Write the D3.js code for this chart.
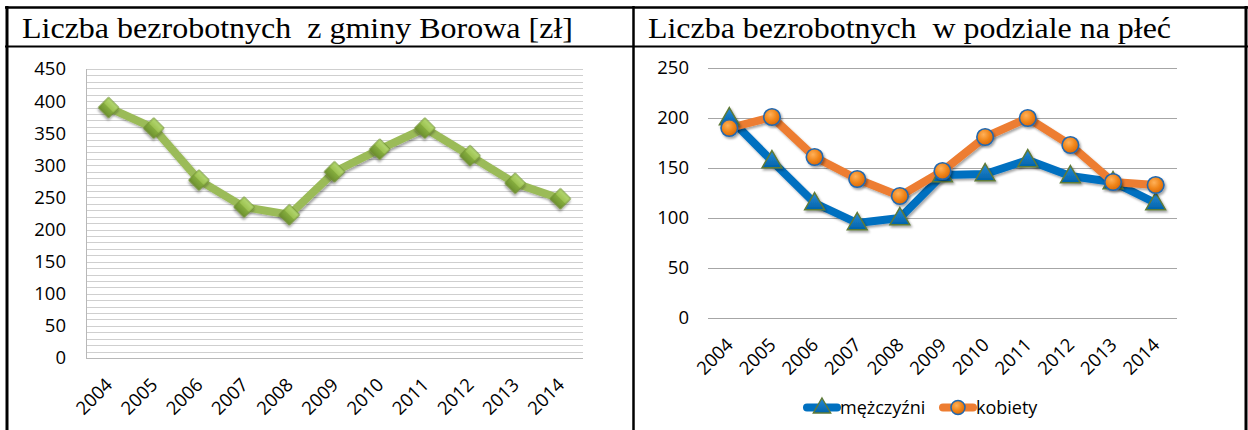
<!DOCTYPE html>
<html>
<head>
<meta charset="utf-8">
<script src="https://cdn.jsdelivr.net/npm/d3@7"></script>
<style>
  html, body { margin: 0; padding: 0; background: #fff; }
  svg { display: block; }
  .title { font-family: "Liberation Serif", "Times New Roman", serif; font-size: 30px; fill: #000; white-space: pre; }
  .tick-label { font-family: "Open Sans", "Noto Sans", sans-serif; font-size: 18.5px; fill: #000; }
  .legend-label { font-family: "Open Sans", "Noto Sans", sans-serif; font-size: 18px; fill: #000; }
</style>
</head>
<body>
<svg id="chart" width="1248" height="430"></svg>
<script>
// Lata i liczba bezrobotnych
const years = ["2004","2005","2006","2007","2008","2009","2010","2011","2012","2013","2014"];
const totalValues = [390, 358, 277, 235, 223, 290, 325, 358, 315, 272, 248];
const menValues   = [200, 157, 115, 95, 100, 143, 144, 158, 142, 136, 115];
const womenValues = [190, 201, 161, 139, 122, 147, 181, 200, 173, 136, 133];
const leftTicks  = [0, 50, 100, 150, 200, 250, 300, 350, 400, 450];
const rightTicks = [0, 50, 100, 150, 200, 250];
const titles = ["Liczba bezrobotnych  z gminy Borowa [zł]", "Liczba bezrobotnych  w podziale na płeć"];
const seriesNames = ["mężczyźni", "kobiety"];

const svg = d3.select("#chart");
const defs = svg.append("defs");

// gradients and shadow
const shadow = defs.append("filter").attr("id", "shadow")
  .attr("x", "-50%").attr("y", "-50%").attr("width", "200%").attr("height", "200%");
shadow.append("feDropShadow").attr("dx", 1.5).attr("dy", 2).attr("stdDeviation", 1.3)
  .attr("flood-color", "#000").attr("flood-opacity", 0.35);

const gDiamond = defs.append("linearGradient").attr("id", "gDiamond")
  .attr("x1", 0).attr("y1", 0).attr("x2", 0).attr("y2", 1);
gDiamond.append("stop").attr("offset", "0%").attr("stop-color", "#b5d873");
gDiamond.append("stop").attr("offset", "50%").attr("stop-color", "#9bc14f");
gDiamond.append("stop").attr("offset", "51%").attr("stop-color", "#86ad3e");
gDiamond.append("stop").attr("offset", "100%").attr("stop-color", "#6d9130");

const gTri = defs.append("linearGradient").attr("id", "gTri")
  .attr("x1", 0).attr("y1", 0).attr("x2", 0).attr("y2", 1);
gTri.append("stop").attr("offset", "0%").attr("stop-color", "#2a8ad6");
gTri.append("stop").attr("offset", "100%").attr("stop-color", "#0063aa");

const gCirc = defs.append("radialGradient").attr("id", "gCirc")
  .attr("cx", "40%").attr("cy", "35%").attr("r", "65%");
gCirc.append("stop").attr("offset", "0%").attr("stop-color", "#ffb15a");
gCirc.append("stop").attr("offset", "60%").attr("stop-color", "#f08417");
gCirc.append("stop").attr("offset", "100%").attr("stop-color", "#d8690a");

// table frame
const frame = svg.append("g").attr("stroke", "#000").attr("fill", "none");
frame.append("line").attr("x1", 5).attr("x2", 1248).attr("y1", 7.5).attr("y2", 7.5).attr("stroke-width", 2.5);
frame.append("line").attr("x1", 5).attr("x2", 1248).attr("y1", 46.5).attr("y2", 46.5).attr("stroke-width", 2.2);
frame.append("line").attr("x1", 7).attr("x2", 7).attr("y1", 6).attr("y2", 430).attr("stroke-width", 3);
frame.append("line").attr("x1", 633.5).attr("x2", 633.5).attr("y1", 6).attr("y2", 430).attr("stroke-width", 2.5);
frame.append("line").attr("x1", 1246).attr("x2", 1246).attr("y1", 6).attr("y2", 430).attr("stroke-width", 3);

svg.append("text").attr("class", "title").attr("x", 22).attr("y", 38)
  .attr("textLength", 551).attr("lengthAdjust", "spacingAndGlyphs").text(titles[0]);
svg.append("text").attr("class", "title").attr("x", 648).attr("y", 38)
  .attr("textLength", 523).attr("lengthAdjust", "spacingAndGlyphs").text(titles[1]);

function xLabels(g, x, y0) {
  g.selectAll("text.xl").data(years).join("text")
    .attr("class", "tick-label xl")
    .attr("text-anchor", "end")
    .attr("transform", d => `translate(${x(d) + x.bandwidth() / 2 + 5},${y0 + 28}) rotate(-45)`)
    .text(d => d);
}

// ---------- left chart: total ----------
{
  const x = d3.scaleBand().domain(years).range([86, 583]);
  const y = d3.scaleLinear().domain([0, 450]).range([358, 69]);
  const g = svg.append("g");

  // minor gridlines every 10
  const grid = d3.range(10, 451, 10);
  g.append("g").selectAll("line").data(grid).join("line")
    .attr("x1", 86).attr("x2", 583)
    .attr("y1", d => Math.round(y(d)) + 0.5).attr("y2", d => Math.round(y(d)) + 0.5)
    .attr("stroke", "#cfcfcf").attr("stroke-width", 1.2);
  // axes lines
  g.append("line").attr("x1", 86.5).attr("x2", 86.5).attr("y1", y(450)).attr("y2", y(0))
    .attr("stroke", "#b8b8b8").attr("stroke-width", 1);
  g.append("line").attr("x1", 86).attr("x2", 583).attr("y1", Math.round(y(0)) + 0.5).attr("y2", Math.round(y(0)) + 0.5)
    .attr("stroke", "#b8b8b8").attr("stroke-width", 1);

  const yAxis = d3.axisLeft(y).tickValues(leftTicks).tickSize(0).tickPadding(20);
  const ya = g.append("g").attr("transform", "translate(86,0)").call(yAxis);
  ya.select(".domain").remove();
  ya.selectAll("text").attr("class", "tick-label").attr("font-family", null).attr("font-size", null);

  xLabels(g, x, y(0));

  const cx = d => x(d) + x.bandwidth() / 2;
  const line = d3.line().x((d, i) => cx(years[i])).y(d => y(d));
  g.append("path").datum(totalValues).attr("d", line)
    .attr("fill", "none").attr("stroke", "#9bbb59").attr("stroke-width", 8)
    .attr("stroke-linejoin", "round").attr("filter", "url(#shadow)");

  const diamond = d3.symbol().type(d3.symbolSquare).size(210);
  g.append("g").selectAll("path").data(totalValues).join("path")
    .attr("d", diamond)
    .attr("transform", (d, i) => `translate(${cx(years[i])},${y(d)}) rotate(45)`)
    .attr("fill", "url(#gDiamond)").attr("stroke", "#6a8c2c").attr("stroke-width", 0.8)
    .attr("filter", "url(#shadow)");
}

// ---------- right chart: by sex ----------
{
  const x = d3.scaleBand().domain(years).range([708, 1177]);
  const y = d3.scaleLinear().domain([0, 250]).range([318, 68]);
  const g = svg.append("g");

  g.append("g").selectAll("line").data(rightTicks).join("line")
    .attr("x1", 708).attr("x2", 1177)
    .attr("y1", d => Math.round(y(d)) + 0.5).attr("y2", d => Math.round(y(d)) + 0.5)
    .attr("stroke", "#a6a6a6").attr("stroke-width", 1.1);

  const yAxis = d3.axisLeft(y).tickValues(rightTicks).tickSize(0).tickPadding(19);
  const ya = g.append("g").attr("transform", "translate(708,0)").call(yAxis);
  ya.select(".domain").remove();
  ya.selectAll("text").attr("class", "tick-label").attr("font-family", null).attr("font-size", null);

  xLabels(g, x, y(0));

  const cx = d => x(d) + x.bandwidth() / 2;
  const line = d3.line().x((d, i) => cx(years[i])).y(d => y(d));
  const tri = d3.symbol().type(d3.symbolTriangle).size(170);

  g.append("path").datum(menValues).attr("d", line)
    .attr("fill", "none").attr("stroke", "#0070c0").attr("stroke-width", 8)
    .attr("stroke-linejoin", "round").attr("filter", "url(#shadow)");
  g.append("path").datum(womenValues).attr("d", line)
    .attr("fill", "none").attr("stroke", "#ed7d31").attr("stroke-width", 8)
    .attr("stroke-linejoin", "round").attr("filter", "url(#shadow)");

  g.append("g").selectAll("path").data(menValues).join("path")
    .attr("d", tri)
    .attr("transform", (d, i) => `translate(${cx(years[i])},${y(d) + 1})`)
    .attr("fill", "url(#gTri)").attr("stroke", "#5f7a37").attr("stroke-width", 1.5)
    .attr("filter", "url(#shadow)");
  g.append("g").selectAll("circle").data(womenValues).join("circle")
    .attr("cx", (d, i) => cx(years[i])).attr("cy", d => y(d)).attr("r", 8.3)
    .attr("fill", "url(#gCirc)").attr("stroke", "#2068b0").attr("stroke-width", 1.6)
    .attr("filter", "url(#shadow)");

  // legend
  const lg = g.append("g");
  const items = [
    { name: seriesNames[0], color: "#0070c0", x0: 804, type: "tri" },
    { name: seriesNames[1], color: "#ed7d31", x0: 940, type: "circ" }
  ];
  items.forEach(it => {
    lg.append("line").attr("x1", it.x0 + 3).attr("x2", it.x0 + 33).attr("y1", 407.5).attr("y2", 407.5)
      .attr("stroke", it.color).attr("stroke-width", 8).attr("stroke-linecap", "round");
    if (it.type === "tri") {
      lg.append("path").attr("d", d3.symbol().type(d3.symbolTriangle).size(130))
        .attr("transform", `translate(${it.x0 + 18},408)`)
        .attr("fill", "url(#gTri)").attr("stroke", "#5f7a37").attr("stroke-width", 1.4);
    } else {
      lg.append("circle").attr("cx", it.x0 + 18).attr("cy", 407.5).attr("r", 7)
        .attr("fill", "url(#gCirc)").attr("stroke", "#2068b0").attr("stroke-width", 1.5);
    }
    lg.append("text").attr("class", "legend-label").attr("x", it.x0 + 36).attr("y", 414).text(it.name);
  });
}
</script>
</body>
</html>
